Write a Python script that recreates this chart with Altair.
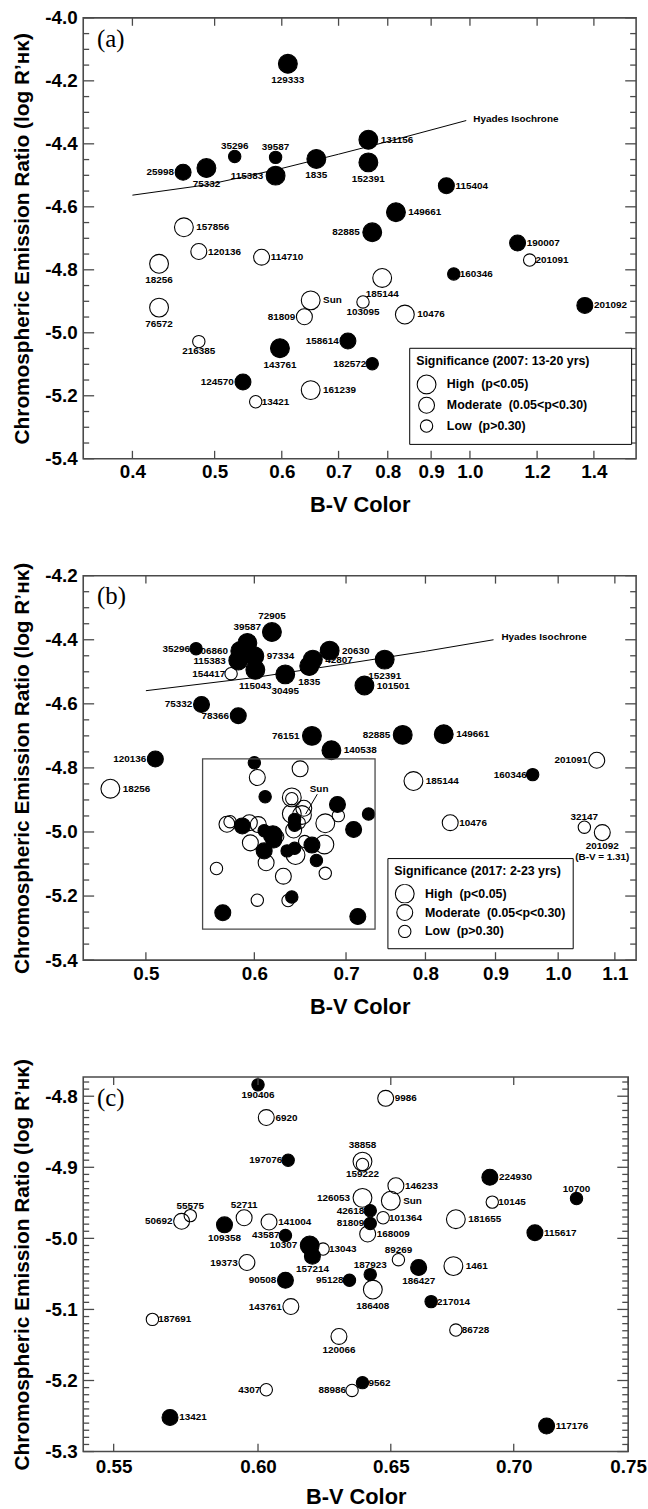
import altair as alt
import pandas as pd

FONT = "Liberation Sans"
SERIF = "Liberation Serif"
FRAME = "#4a4a4a"
SIG = ["High", "Moderate", "Low"]
SIZES = [361, 156, 36]
RAD = {"High": 9.5, "Moderate": 6.25, "Low": 3.0}
YTITLE = "Chromospheric Emission Ratio (log R\u2019\u029c\u1d0b)"
NB = "\u00a0"
BLANK = "\u2800"

# ---------------- Panel (a): significance 2007 (13-20 yrs)
a_star = ["129333", "131156", "35296", "39587", "25998", "75332", "115383", "1835", "152391", "115404",
          "149661", "82885", "157856", "190007", "120136", "114710", "201091", "18256", "160346", "185144",
          "76572", "Sun", "103095", "201092", "81809", "10476", "216385", "158614", "143761", "182572",
          "124570", "161239", "13421"]
a_bv = [0.610, 0.759, 0.528, 0.590, 0.459, 0.489, 0.590, 0.659, 0.759, 0.938,
        0.818, 0.767, 0.460, 1.138, 0.479, 0.568, 1.176, 0.430, 0.957, 0.788,
        0.430, 0.649, 0.748, 1.366, 0.638, 0.838, 0.479, 0.718, 0.597, 0.767,
        0.540, 0.649, 0.559]
a_r = [-4.146, -4.387, -4.440, -4.443, -4.490, -4.477, -4.501, -4.448, -4.459, -4.533,
       -4.617, -4.681, -4.665, -4.715, -4.742, -4.760, -4.769, -4.781, -4.813, -4.826,
       -4.920, -4.897, -4.902, -4.913, -4.949, -4.942, -5.028, -5.026, -5.049, -5.098,
       -5.156, -5.182, -5.219]
a_sig = ["High", "High", "Low", "Low", "Moderate", "High", "High", "High", "High", "Moderate",
         "High", "High", "High", "Moderate", "Moderate", "Moderate", "Low", "High", "Low", "High",
         "High", "High", "Low", "Moderate", "Moderate", "High", "Low", "Moderate", "High", "Low",
         "Moderate", "High", "Low"]
a_filled = [1, 1, 1, 1, 1, 1, 1, 1, 1, 1,
            1, 1, 0, 1, 0, 0, 0, 0, 1, 0,
            0, 0, 0, 1, 0, 0, 0, 1, 1, 1,
            1, 0, 0]
a_side = ["below", "right", "above", "above", "left", "below", "left", "below", "below", "right",
          "right", "left", "right", "right", "right", "right", "right", "below", "right", "below",
          "below", "right", "below", "right", "left", "right", "below", "left", "below", "left",
          "left", "right", "right"]
a_hyades_bv = [0.40, 0.49, 0.545, 0.60, 0.70, 0.81, 0.99]
a_hyades_r = [-4.563, -4.530, -4.503, -4.478, -4.433, -4.389, -4.326]
a_xticks = [0.4, 0.5, 0.6, 0.7, 0.8, 0.9, 1.0, 1.2, 1.4]
a_yticks = [-4.0, -4.2, -4.4, -4.6, -4.8, -5.0, -5.2, -5.4]

# ---------------- Panel (b): significance 2017 (2-23 yrs)
b_star = ["72905", "39587", "35296", "206860", "115383", "97334", "154417", "115043", "30495", "1835",
          "42807", "20630", "152391", "101501", "75332", "78366", "76151", "140538", "82885", "149661",
          "120136", "18256", "185144", "160346", "201091", "10476", "32147", "201092"]
b_note = {"201092": "(B-V = 1.31)"}
b_bv = [0.618, 0.593, 0.544, 0.586, 0.584, 0.600, 0.577, 0.601, 0.632, 0.658,
        0.662, 0.681, 0.747, 0.722, 0.549, 0.584, 0.661, 0.683, 0.770, 0.825,
        0.508, 0.471, 0.784, 0.958, 1.067, 0.834, 1.045, 1.077]
b_r = [-4.376, -4.410, -4.428, -4.435, -4.465, -4.451, -4.506, -4.494, -4.508, -4.482,
       -4.462, -4.434, -4.462, -4.543, -4.602, -4.637, -4.700, -4.745, -4.697, -4.695,
       -4.772, -4.865, -4.841, -4.821, -4.776, -4.971, -4.985, -5.002]
b_sig = ["High", "High", "Low", "High", "High", "High", "Low", "High", "High", "High",
         "High", "High", "High", "High", "Moderate", "Moderate", "High", "High", "High", "High",
         "Moderate", "High", "High", "Low", "Moderate", "Moderate", "Low", "Moderate"]
b_filled = [1, 1, 1, 1, 1, 1, 0, 1, 1, 1,
            1, 1, 1, 1, 1, 1, 1, 1, 1, 1,
            1, 0, 0, 1, 0, 0, 0, 0]
b_side = ["above", "above", "left", "left", "left", "right", "left", "below", "below", "below",
          "right", "right", "below", "right", "left", "left", "left", "right", "left", "right",
          "left", "right", "right", "left", "left", "right", "above", "below"]
b_hyades_bv = [0.50, 0.60, 0.694, 0.80, 0.897]
b_hyades_r = [-4.559, -4.518, -4.477, -4.436, -4.400]
b_inset_bv = [0.55, 0.735]
b_inset_r = [-5.303, -4.772]
b_sun_line_bv = [0.654, 0.667]
b_sun_line_r = [-4.944, -4.882]
b_sun_text = [0.669, -4.866]
b_xticks = [0.5, 0.6, 0.7, 0.8, 0.9, 1.0, 1.1]
b_yticks = [-4.2, -4.4, -4.6, -4.8, -5.0, -5.2, -5.4]

# ---------------- Panel (c): close-up of the solar-like stars
c_star = ["190406", "9986", "6920", "197076", "38858", "159222", "224930", "146233", "10700", "126053",
          "Sun", "10145", "55575", "50692", "52711", "141004", "109358", "42618", "101364", "81809",
          "181655", "115617", "168009", "43587", "10307", "157214", "13043", "89269", "19373", "186427",
          "1461", "187923", "90508", "95128", "186408", "217014", "143761", "187691", "86728", "120066",
          "9562", "4307", "88986", "13421", "117176"]
c_bv = [0.600, 0.648, 0.603, 0.611, 0.639, 0.639, 0.690, 0.652, 0.727, 0.639,
        0.650, 0.691, 0.576, 0.573, 0.595, 0.604, 0.588, 0.642, 0.647, 0.642,
        0.676, 0.709, 0.641, 0.610, 0.619, 0.620, 0.624, 0.653, 0.596, 0.661,
        0.675, 0.642, 0.610, 0.634, 0.643, 0.666, 0.612, 0.563, 0.676, 0.630,
        0.639, 0.603, 0.635, 0.569, 0.714]
c_r = [-4.784, -4.803, -4.830, -4.890, -4.892, -4.896, -4.914, -4.926, -4.944, -4.943,
       -4.947, -4.949, -4.968, -4.976, -4.971, -4.977, -4.981, -4.961, -4.971, -4.979,
       -4.973, -4.992, -4.994, -4.996, -5.010, -5.025, -5.015, -5.030, -5.034, -5.041,
       -5.039, -5.051, -5.059, -5.059, -5.072, -5.089, -5.096, -5.114, -5.129, -5.138,
       -5.203, -5.213, -5.214, -5.252, -5.264]
c_sig = ["Low", "Moderate", "Moderate", "Low", "High", "Low", "Moderate", "Moderate", "Low", "High",
         "High", "Low", "Low", "Moderate", "Moderate", "Moderate", "Moderate", "Low", "Low", "Low",
         "High", "Moderate", "Moderate", "Low", "High", "Moderate", "Low", "Low", "Moderate", "Moderate",
         "High", "Low", "Moderate", "Low", "High", "Low", "Moderate", "Low", "Low", "Moderate",
         "Low", "Low", "Low", "Moderate", "Moderate"]
c_filled = [1, 0, 0, 1, 0, 0, 1, 0, 1, 0,
            0, 0, 0, 0, 0, 0, 1, 1, 0, 1,
            0, 1, 0, 1, 1, 1, 0, 0, 0, 1,
            0, 1, 1, 1, 0, 1, 0, 0, 0, 0,
            1, 0, 0, 1, 1]
c_side = ["below", "right", "right", "left", "above", "below", "right", "right", "above", "left",
          "right", "right", "above", "left", "above", "right", "below", "left", "right", "left",
          "right", "right", "right", "left", "left", "below", "right", "above", "left", "below",
          "right", "above", "left", "left", "below", "right", "left", "right", "right", "below",
          "right", "left", "left", "right", "right"]
c_xticks = [0.55, 0.60, 0.65, 0.70, 0.75]
c_yticks = [-4.8, -4.9, -5.0, -5.1, -5.2, -5.3]


def minor_ticks(lo, hi, step, majors):
    n = int(round((hi - lo) / step))
    vals = [round(lo + i * step, 3) for i in range(n + 1)]
    return [v for v in vals if all(abs(v - m) > 1e-6 for m in majors)]


def frame_df(stars, bv, r, sig, filled, side=None, notes=None):
    df = pd.DataFrame({"star": stars, "bv": bv, "r": r, "sig": sig,
                       "fillc": ["black" if f else "transparent" for f in filled]})
    if side is not None:
        df["side"] = side
        notes = notes or {}
        df["label"] = [s + ("\n" + notes[s] if s in notes else "") for s in stars]
    df["rank"] = [SIG.index(s) for s in sig]
    return df


def point_layer(df, xscale, yscale, xaxis, yaxis, legend):
    return alt.Chart(df).mark_point(
        shape="circle", filled=True, stroke="black", strokeWidth=1.1,
        opacity=1, fillOpacity=1, strokeOpacity=1
    ).encode(
        x=alt.X("bv:Q", scale=xscale, axis=xaxis),
        y=alt.Y("r:Q", scale=yscale, axis=yaxis),
        fill=alt.Fill("fillc:N", scale=None),
        size=alt.Size("sig:N", scale=alt.Scale(domain=SIG, range=SIZES), legend=legend),
        order=alt.Order("rank:Q"),
    )


def label_layers(df):
    layers = []
    for side in ["right", "left", "above", "below"]:
        for sig in SIG:
            sub = df[(df["side"] == side) & (df["sig"] == sig)]
            if len(sub) == 0:
                continue
            r = RAD[sig]
            if side == "right":
                kw = dict(align="left", baseline="middle", dx=r + 3, dy=0)
            elif side == "left":
                kw = dict(align="right", baseline="middle", dx=-(r + 3), dy=0)
            elif side == "above":
                kw = dict(align="center", baseline="bottom", dx=0, dy=-(r + 2))
            else:
                kw = dict(align="center", baseline="top", dx=0, dy=r + 2)
            layers.append(alt.Chart(sub).mark_text(
                font=FONT, fontSize=10, fontWeight="bold", color="black",
                lineBreak="\n", lineHeight=11, **kw
            ).encode(x="bv:Q", y="r:Q", text="label:N"))
    return layers


def tick_layers(xt, ymaj, ymin, W, H):
    dfx = pd.DataFrame({"bv": xt})
    dmaj = pd.DataFrame({"r": ymaj})
    dmin = pd.DataFrame({"r": ymin})
    st = dict(color=FRAME, strokeWidth=1.3)
    return [
        alt.Chart(dfx).mark_rule(**st).encode(x="bv:Q", y=alt.value(H), y2=alt.value(H - 8)),
        alt.Chart(dfx).mark_rule(**st).encode(x="bv:Q", y=alt.value(0), y2=alt.value(8)),
        alt.Chart(dmaj).mark_rule(**st).encode(y="r:Q", x=alt.value(0), x2=alt.value(11)),
        alt.Chart(dmaj).mark_rule(**st).encode(y="r:Q", x=alt.value(W), x2=alt.value(W - 11)),
        alt.Chart(dmin).mark_rule(**st).encode(y="r:Q", x=alt.value(0), x2=alt.value(6)),
        alt.Chart(dmin).mark_rule(**st).encode(y="r:Q", x=alt.value(W), x2=alt.value(W - 6)),
    ]


def x_axis(vals, fmt, label_pad, title_pad):
    return alt.Axis(values=vals, format=fmt, ticks=False, domain=False, grid=False,
                    labelFlush=False, labelOverlap=False, labelBound=False, labelPadding=label_pad,
                    labelFont=FONT, labelFontSize=19, labelFontWeight="bold", labelColor="black",
                    title="B-V Color", titleFont=FONT, titleFontSize=22, titleFontWeight="bold",
                    titleColor="black", titlePadding=title_pad)


def y_axis(vals, H):
    return alt.Axis(values=vals, ticks=False, domain=False, grid=False,
                    labelExpr="datum.value < 0 ? '-' + format(-datum.value, '.1f') : format(datum.value, '.1f')",
                    labelFlush=False, labelOverlap=False, labelPadding=6,
                    labelFont=FONT, labelFontSize=19, labelFontWeight="bold", labelColor="black",
                    title=YTITLE, titleFont=FONT, titleFontSize=21, titleFontWeight="bold",
                    titleColor="black", titleAngle=270, titleAlign="center", titleBaseline="middle",
                    titleX=-61, titleY=H / 2)


def legend(title, lx, ly, clip, extra):
    hi = "High" + NB * 2 + "(p<0.05)"
    mo = "Moderate" + NB * 2 + "(0.05<p<0.30)" + (NB * 2 + BLANK * extra if extra else "")
    lo = "Low" + NB * 2 + "(p>0.30)"
    return alt.Legend(
        title=title, orient="none", legendX=lx, legendY=ly, direction="vertical",
        strokeColor="black", fillColor="white", padding=7,
        titleFont=FONT, titleFontSize=12.5, titleFontWeight="bold", titleColor="black",
        titlePadding=7, titleLimit=400,
        labelFont=FONT, labelFontSize=12.5, labelFontWeight="bold", labelColor="black",
        labelOffset=10, labelLimit=400,
        labelExpr=f"datum.label == 'High' ? '{hi}' : datum.label == 'Moderate' ? '{mo}' : '{lo}'",
        symbolType="circle", symbolFillColor="white", symbolStrokeColor="black",
        symbolStrokeWidth=1.1, symbolOpacity=1, clipHeight=clip, rowPadding=0,
    )


def panel_letter(txt):
    return alt.Chart(pd.DataFrame({"t": [txt]})).mark_text(
        font=SERIF, fontSize=25, color="black", align="left", baseline="middle"
    ).encode(text="t:N", x=alt.value(14), y=alt.value(21))


def note_text(bv, r, txt, align="left"):
    return alt.Chart(pd.DataFrame({"bv": [bv], "r": [r], "t": [txt]})).mark_text(
        font=FONT, fontSize=10, fontWeight="bold", color="black", align=align, baseline="middle"
    ).encode(x="bv:Q", y="r:Q", text="t:N")


# ---------------- build panel (a)
WA, HA = 558, 445
dfa = frame_df(a_star, a_bv, a_r, a_sig, a_filled, a_side).sort_values("rank")
xs_a = alt.Scale(type="log", domain=[0.35, 1.57], nice=False)
ys_a = alt.Scale(domain=[-5.4, -4.0], nice=False, zero=False)
hy_a = pd.DataFrame({"bv": a_hyades_bv, "r": a_hyades_r})
pa = alt.layer(
    point_layer(dfa, xs_a, ys_a, x_axis(a_xticks, ".1f", 4, 13), y_axis(a_yticks, HA),
                legend("Significance (2007: 13-20 yrs)", 329, 333, 21, 3)),
    alt.Chart(hy_a).mark_line(color="black", strokeWidth=1).encode(x="bv:Q", y="r:Q"),
    note_text(1.009, -4.320, "Hyades Isochrone"),
    *label_layers(dfa),
    *tick_layers(a_xticks, a_yticks, minor_ticks(-5.4, -4.0, 0.05, a_yticks), WA, HA),
    panel_letter("(a)"),
).properties(width=WA, height=HA)

# ---------------- build panel (b)
WB, HB = 558, 388
dfb_lab = frame_df(b_star, b_bv, b_r, b_sig, b_filled, b_side, b_note)
dfb_in = frame_df(c_star, c_bv, c_r, c_sig, c_filled)
dfb = pd.concat([dfb_lab.drop(columns=["side", "label"]), dfb_in]).sort_values("rank")
xs_b = alt.Scale(type="log", domain=[0.45, 1.14], nice=False)
ys_b = alt.Scale(domain=[-5.4, -4.2], nice=False, zero=False)
hy_b = pd.DataFrame({"bv": b_hyades_bv, "r": b_hyades_r})
box_b = pd.DataFrame({"x1": [b_inset_bv[0]], "x2": [b_inset_bv[1]],
                      "y1": [b_inset_r[0]], "y2": [b_inset_r[1]]})
sun_b = pd.DataFrame({"x1": [b_sun_line_bv[0]], "x2": [b_sun_line_bv[1]],
                      "y1": [b_sun_line_r[0]], "y2": [b_sun_line_r[1]]})
pb = alt.layer(
    point_layer(dfb, xs_b, ys_b, x_axis(b_xticks, ".1f", 5, 13), y_axis(b_yticks, HB),
                legend("Significance (2017: 2-23 yrs)", 307, 285, 19, 0)),
    alt.Chart(box_b).mark_rect(filled=False, stroke=FRAME, strokeWidth=1.3).encode(
        x="x1:Q", x2="x2:Q", y="y1:Q", y2="y2:Q"),
    alt.Chart(sun_b).mark_rule(color="black", strokeWidth=1).encode(
        x="x1:Q", x2="x2:Q", y="y1:Q", y2="y2:Q"),
    alt.Chart(hy_b).mark_line(color="black", strokeWidth=1).encode(x="bv:Q", y="r:Q"),
    note_text(0.909, -4.390, "Hyades Isochrone"),
    note_text(b_sun_text[0], b_sun_text[1], "Sun", align="center"),
    *label_layers(dfb_lab),
    *tick_layers(b_xticks, b_yticks, minor_ticks(-5.4, -4.2, 0.05, b_yticks), WB, HB),
    panel_letter("(b)"),
).properties(width=WB, height=HB)

# ---------------- build panel (c)
WC, HC = 550, 378
dfc = frame_df(c_star, c_bv, c_r, c_sig, c_filled, c_side).sort_values("rank")
xs_c = alt.Scale(type="log", domain=[0.540, 0.75], nice=False)
ys_c = alt.Scale(domain=[-5.30, -4.773], nice=False, zero=False)
pc = alt.layer(
    point_layer(dfc, xs_c, ys_c, x_axis(c_xticks, ".2f", 6, 10), y_axis(c_yticks, HC), None),
    *label_layers(dfc),
    *tick_layers(c_xticks, c_yticks, minor_ticks(-5.3, -4.78, 0.01, c_yticks), WC, HC),
    panel_letter("(c)"),
).properties(width=WC, height=HC)

chart = alt.vconcat(pa, pb, pc, spacing=118, bounds="flush").resolve_scale(
    size="independent"
).configure_view(
    stroke=FRAME, strokeWidth=1.6
).properties(
    padding={"left": 11, "top": 1, "right": 0, "bottom": 0},
    background="white",
)

chart.save("out.html", embed_options={"renderer": "svg", "actions": False})
